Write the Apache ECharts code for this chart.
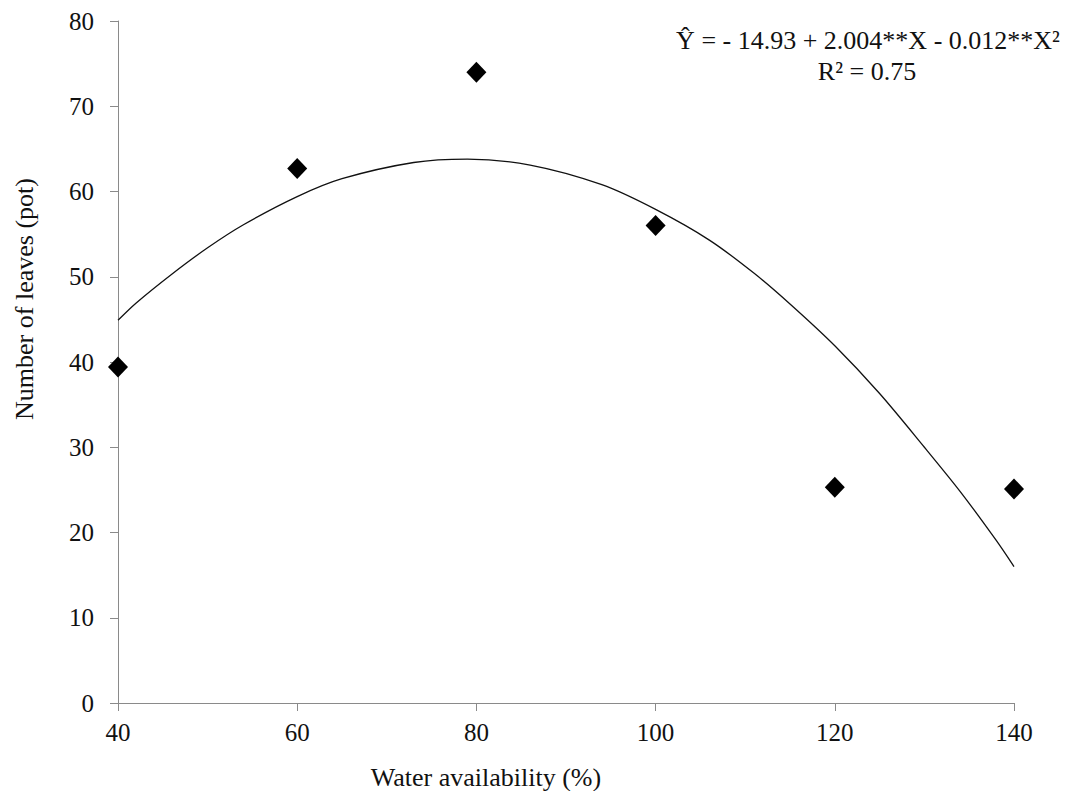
<!DOCTYPE html>
<html>
<head>
<meta charset="utf-8">
<script src="https://cdn.jsdelivr.net/npm/echarts@6/dist/echarts.min.js"></script>
<style>
html,body{margin:0;padding:0;background:#fff;}
#chart{width:1069px;height:791px;}
</style>
</head>
<body>
<div id="chart"></div>
<script>
// Observed data (water availability %, number of leaves)
const waterX = [40, 60, 80, 100, 120, 140];
const leaves = [39.4, 62.7, 74.0, 56.0, 25.3, 25.1];

// Fitted curve
const curveX = [40, 42, 46, 50, 54, 60, 65, 73, 79, 86, 94, 100, 106, 111, 115, 120, 125, 130, 134, 138, 140];
const curveY = [44.9, 46.9, 50.3, 53.4, 56.1, 59.4, 61.5, 63.4, 63.8, 63.1, 60.8, 57.9, 54.3, 50.4, 46.8, 41.9, 36.3, 30.0, 24.8, 19.1, 16.0];

const xTitle = 'Water availability (%)';
const yTitle = 'Number of leaves (pot)';
const eqLine1 = 'Ŷ = - 14.93 + 2.004**X - 0.012**X²';
const eqLine2 = 'R² = 0.75';

const FONT = 'Liberation Serif, DejaVu Serif, serif';

const chart = echarts.init(document.getElementById('chart'), null, {renderer: 'svg'});
chart.setOption({
  animation: false,
  backgroundColor: '#ffffff',
  grid: {left: 118, right: 55, top: 21, bottom: 88, containLabel: false},
  xAxis: {
    type: 'value', min: 40, max: 140, interval: 20,
    axisLine: {show: true, lineStyle: {color: '#8a8a8a', width: 1}},
    axisTick: {show: true, length: 8, lineStyle: {color: '#8a8a8a'}},
    splitLine: {show: false},
    axisLabel: {color: '#111', fontSize: 25, fontFamily: FONT, margin: 17}
  },
  yAxis: {
    type: 'value', min: 0, max: 80, interval: 10,
    axisLine: {show: true, lineStyle: {color: '#8a8a8a', width: 1}},
    axisTick: {show: true, length: 8, lineStyle: {color: '#8a8a8a'}},
    splitLine: {show: false},
    axisLabel: {color: '#111', fontSize: 25, fontFamily: FONT, margin: 24}
  },
  graphic: [
    {type: 'text', x: 486, y: 777, style: {text: xTitle, fill: '#111', fontSize: 26, fontFamily: FONT, align: 'center', verticalAlign: 'middle'}},
    {type: 'text', x: 24, y: 299, rotation: Math.PI / 2, style: {text: yTitle, fill: '#111', fontSize: 26, fontFamily: FONT, align: 'center', verticalAlign: 'middle'}},
    {type: 'text', x: 868, y: 40, style: {text: eqLine1, fill: '#111', fontSize: 26, fontFamily: FONT, align: 'center', verticalAlign: 'middle'}},
    {type: 'text', x: 867, y: 71, style: {text: eqLine2, fill: '#111', fontSize: 26, fontFamily: FONT, align: 'center', verticalAlign: 'middle'}}
  ],
  series: [
    {
      type: 'line',
      data: curveX.map((x, i) => [x, curveY[i]]),
      smooth: 0.3,
      showSymbol: false,
      lineStyle: {color: '#111', width: 1.3},
      z: 2
    },
    {
      type: 'scatter',
      data: waterX.map((x, i) => [x, leaves[i]]),
      symbol: 'diamond',
      symbolSize: [20, 21],
      itemStyle: {color: '#000', opacity: 1},
      z: 3
    }
  ]
});
</script>
</body>
</html>
